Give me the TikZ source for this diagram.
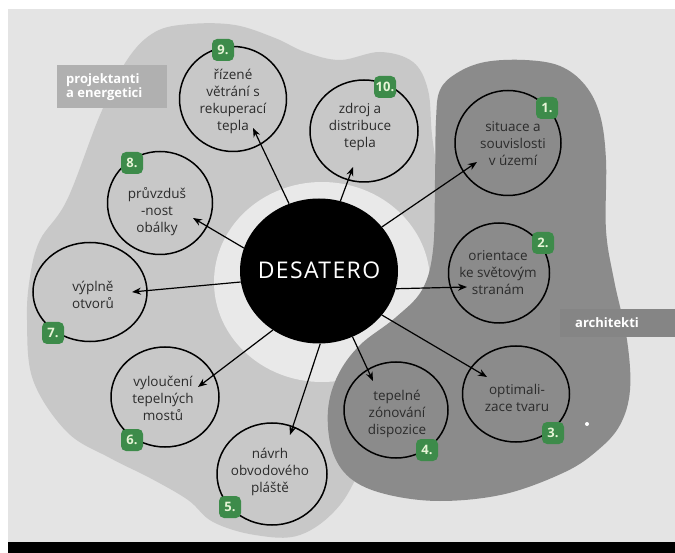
\documentclass[tikz,border=0pt]{standalone}
\usepackage{fontspec}
\setmainfont{Open Sans}
\usetikzlibrary{shapes.geometric,arrows.meta}

\definecolor{paper}{HTML}{E4E4E4}
\definecolor{teamlight}{HTML}{C8C8C8}
\definecolor{halo}{HTML}{E9E9E9}
\definecolor{teamdark}{HTML}{8B8B8B}
\definecolor{badgegreen}{HTML}{3D8B4A}
\definecolor{badgeink}{HTML}{E6F4D6}
\definecolor{ink}{HTML}{2B2B2B}

\tikzset{
  topic/.style={ellipse, draw=black, line width=1.5pt, inner sep=0pt},
  topictext/.style={align=center, inner sep=0pt, text=ink,
    font=\fontsize{13.5}{17}\selectfont},
  badge/.style={fill=badgegreen, rounded corners=5pt, minimum width=22pt,
    minimum height=22pt, inner sep=0pt, text=badgeink,
    font=\fontsize{13}{13}\selectfont\bfseries},
  teamtag/.style={inner sep=0pt, text=white, align=left,
    font=\fontsize{13}{16}\selectfont\bfseries},
  link/.style={-{Stealth[length=9pt,width=7pt]}, line width=1.2pt},
}

\begin{document}
\begin{tikzpicture}[x=1pt, y=-1pt]
  \useasboundingbox (0,0) rectangle (675,553);
  \fill[white] (0,0) rectangle (675,553);
  \fill[paper] (8,9) rectangle (675,542);
  \fill[black] (8,542) rectangle (675,553);

  % team areas
  \fill[teamlight] plot[smooth cycle, tension=0.6] coordinates {
    (30,277) (40,240) (67,200) (100,115) (127,60) (155,32) (190,24)
    (235,25) (275,38) (305,52) (340,60) (380,52) (413,62) (428,90)
    (432,135) (440,200) (440,300) (410,380) (370,450) (340,505)
    (300,535) (255,535) (213,522) (188,500) (150,478) (110,458)
    (67,432) (33,380) (27,320)};
  \fill[halo] (322,282) ellipse[x radius=108, y radius=100];
  \fill[teamdark] plot[smooth cycle, tension=0.6] coordinates {
    (440,90) (457,73) (485,62) (525,60) (560,66) (585,85) (600,115)
    (606,160) (606,230) (614,280) (627,340) (630,390) (620,425)
    (598,450) (565,472) (505,494) (440,501) (385,494) (350,478)
    (332,450) (328,410) (338,375) (360,345) (395,318) (422,290)
    (433,250) (435,180) (436,120)};
  \fill[white] (587,424) circle[radius=2];

  % team tags
  \node[fill=teamlight!88!black, minimum width=110pt, minimum height=43pt,
        inner sep=0pt] (tagp) at (112,86.5) {};
  \node[teamtag, anchor=west] (tagptext) at (66,87)
        {projektanti\\[-2pt]a energetici};
  \node[fill=teamdark!96!black, minimum width=115pt, minimum height=28pt,
        inner sep=0pt] (taga) at (617.5,323) {};
  \node[teamtag, anchor=west] (tagatext) at (575,323) {architekti};

  % core
  \node[ellipse, fill=black, minimum width=158pt, minimum height=145pt,
        inner sep=0pt] (core) at (319,271) {};
  \node[text=white, font=\fontsize{23}{23}\selectfont\addfontfeatures{LetterSpace=6}]
        (coretext) at (319,270) {DESATERO};

  % topics
  \node[topic, minimum width=106pt, minimum height=105pt] (c1) at (508,143) {};
  \node[topic, minimum width=101pt, minimum height=100pt] (c2) at (499,273) {};
  \node[topic, minimum width=107pt, minimum height=96pt]  (c3) at (516,394) {};
  \node[topic, minimum width=104pt, minimum height=96pt]  (c4) at (396,410) {};
  \node[topic, minimum width=110pt, minimum height=102pt] (c5) at (272,474) {};
  \node[topic, minimum width=108pt, minimum height=100pt] (c6) at (165,397) {};
  \node[topic, minimum width=114pt, minimum height=99pt]  (c7) at (90,292) {};
  \node[topic, minimum width=105pt, minimum height=103pt] (c8) at (160,203) {};
  \node[topic, minimum width=107pt, minimum height=105pt] (c9) at (233,99) {};
  \node[topic, minimum width=108pt, minimum height=102pt] (c10) at (364,131) {};

  \node[topictext] (t1) at (513,144) {situace a\\souvislosti\\v území};
  \node[topictext] (t2) at (498,273) {orientace\\ke světovým\\stranám};
  \node[topictext] (t3) at (517,398) {optimali-\\zace tvaru};
  \node[topictext] (t4) at (397,414) {tepelné\\zónování\\dispozice};
  \node[topictext] (t5) at (270,472) {návrh\\obvodového\\pláště};
  \node[topictext] (t6) at (163,398) {vyloučení\\tepelných\\mostů};
  \node[topictext] (t7) at (93,295)  {výplně\\otvorů};
  \node[topictext] (t8) at (157,212) {průvzduš\\-nost\\obálky};
  \node[topictext] (t9) at (233,101) {řízené\\větrání s\\rekuperací\\tepla};
  \node[topictext] (t10) at (360,127) {zdroj a\\distribuce\\tepla};

  % numbered badges
  \node[badge] (b1) at (547,108) {1.};
  \node[badge] (b2) at (543,243) {2.};
  \node[badge] (b3) at (553,433) {3.};
  \node[badge] (b4) at (427,450) {4.};
  \node[badge] (b5) at (230,507) {5.};
  \node[badge] (b6) at (132,440) {6.};
  \node[badge] (b7) at (53,333)  {7.};
  \node[badge] (b8) at (132,163) {8.};
  \node[badge] (b9) at (223,50)  {9.};
  \node[badge] (b10) at (385,87) {10.};

  % arrow targets inside the topics
  \coordinate (a1) at (477,162);
  \coordinate (a2) at (467,287);
  \coordinate (a3) at (487,377);
  \coordinate (a4) at (373,381);
  \coordinate (a5) at (290,435);
  \coordinate (a6) at (198,387);
  \coordinate (a7) at (132,292);
  \coordinate (a8) at (193,218);
  \coordinate (a9) at (253,128);
  \coordinate (a10) at (353,167);

  \draw[link] (core.35)   -- (a1);
  \draw[link] (core.-13)  -- (a2);
  \draw[link] (core.-35)  -- (a3);
  \draw[link] (core.-63)  -- (a4);
  \draw[link] (core.-89)  -- (a5);
  \draw[link] (core.232)  -- (a6);
  \draw[link] (core.188)  -- (a7);
  \draw[link] (core.163)  -- (a8);
  \draw[link] (core.114)  -- (a9);
  \draw[link] (core.73)   -- (a10);
\end{tikzpicture}
\end{document}
